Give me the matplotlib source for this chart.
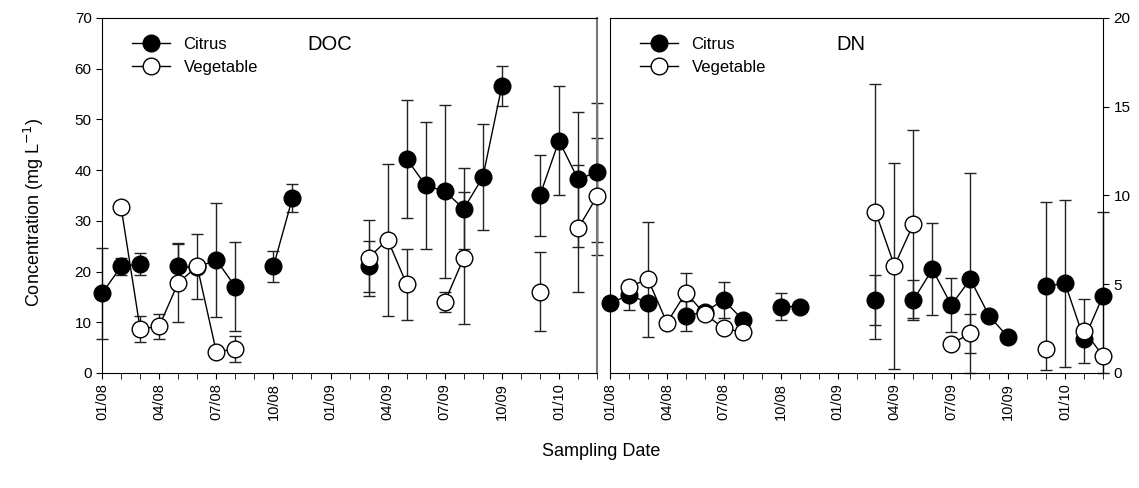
import numpy as np
import matplotlib.pyplot as plt

plt.rcParams['font.family'] = ['Liberation Sans', 'DejaVu Sans']

nan = np.nan

# months since 01/2008 (0 .. 26)
months = list(range(27))
tick_labels = ["01/08", "04/08", "07/08", "10/08", "01/09", "04/09", "07/09", "10/09", "01/10"]

# DOC (mg L-1), nan = no sample
doc_citrus = [15.7, 21.0, 21.5, nan, 21.0, 20.8, 22.3, 17.0, nan, 21.0, 34.5, nan, nan, nan,
              21.0, nan, 42.2, 37.0, 35.8, 32.4, 38.6, 56.6, nan, 35.0, 45.8, 38.2, 39.6]
doc_citrus_err = [9.0, 1.6, 2.2, 0, 4.4, 0, 11.2, 8.8, 0, 3.1, 2.8, 0, 0, 0,
                  5.0, 0, 11.7, 12.5, 17.0, 8.0, 10.5, 4.0, 0, 8.0, 10.8, 13.3, 13.7]
doc_veg = [nan, 32.7, 8.7, 9.2, 17.8, 21.0, 4.2, 4.7, nan, nan, nan, nan, nan, nan,
           22.7, 26.3, 17.5, nan, 14.0, 22.7, nan, nan, nan, 16.0, nan, 28.5, 34.8]
doc_veg_err = [0, 0, 2.5, 2.5, 7.8, 6.4, 0, 2.5, 0, 0, 0, 0, 0, 0,
               7.5, 15.0, 7.0, 0, 2.0, 13.0, 0, 0, 0, 7.8, 0, 12.6, 11.5]

# DN (mg L-1)
dn_citrus = [3.93, 4.39, 3.96, nan, 3.21, 3.45, 4.11, 2.99, nan, 3.74, 3.74, nan, nan, nan,
             4.11, nan, 4.11, 5.84, 3.83, 5.28, 3.21, 2.01, nan, 4.90, 5.05, 1.90, 4.34]
dn_citrus_err = [0, 0.85, 0, 0, 0.84, 0, 1.0, 0, 0, 0.74, 0, 0, 0, 0,
                 1.4, 0, 1.1, 2.6, 1.5, 6.0, 0, 0, 0, 4.75, 4.7, 0, 4.75]
dn_veg = [nan, 4.86, 5.28, 2.83, 4.52, 3.32, 2.52, 2.29, nan, nan, nan, nan, nan, nan,
          9.09, 6.04, 8.39, nan, 1.63, 2.24, nan, nan, nan, 1.35, nan, 2.38, 0.96]
dn_veg_err = [0, 0, 3.25, 0, 1.1, 0, 0, 0, 0, 0, 0, 0, 0, 0,
              7.2, 5.8, 5.3, 0, 0, 1.1, 0, 0, 0, 0, 0, 1.8, 0]


def draw(ax, cit, cit_err, veg, veg_err):
	x = np.array(months, dtype=float)
	for y, e, fc, z in [(cit, cit_err, 'black', 3), (veg, veg_err, 'white', 4)]:
		y = np.array(y)
		e = np.array(e)
		m = ~np.isnan(y) & (e > 0)
		lower = np.minimum(e[m], y[m])  # bars stop at the x axis
		ax.errorbar(x[m], y[m], yerr=[lower, e[m]], fmt='none', ecolor='#222222', elinewidth=1,
					capsize=4, capthick=1, zorder=2, clip_on=False)
		ax.plot(x, y, '-', color='black', lw=1, marker='o', ms=12, mfc=fc, mec='black',
				mew=1, zorder=z, clip_on=False)
	ax.set_xlim(0, 26)
	ax.set_xticks(months, minor=True)
	ax.set_xticks(months[::3])
	ax.set_xticklabels(tick_labels, rotation=90, fontsize=10.5)
	ax.tick_params(axis='x', which='both', direction='out', length=4)
	ax.tick_params(axis='y', direction='out', length=4, labelsize=11)


fig = plt.figure(figsize=(11.39, 4.88), dpi=100)
ax1 = fig.add_axes([0.0896, 0.2357, 0.4346, 0.7275])
ax2 = fig.add_axes([0.5356, 0.2357, 0.4328, 0.7275])

draw(ax1, doc_citrus, doc_citrus_err, doc_veg, doc_veg_err)
draw(ax2, dn_citrus, dn_citrus_err, dn_veg, dn_veg_err)

ax1.set_ylim(0, 70)
ax1.set_yticks(range(0, 71, 10))
ax1.spines['right'].set_color('#777777')
ax1.spines['right'].set_linewidth(1.5)

ax2.set_ylim(0, 20)
ax2.set_yticks(range(0, 21, 5))
ax2.yaxis.tick_right()

for ax, name, tx in [(ax1, "DOC", 0.415), (ax2, "DN", 0.46)]:
	ax.text(tx, 0.925, name, transform=ax.transAxes, fontsize=14.5, va='center')
	h1, = ax.plot([], [], '-', color='black', lw=1, marker='o', ms=12, mfc='black', mec='black')
	h2, = ax.plot([], [], '-', color='black', lw=1, marker='o', ms=12, mfc='white', mec='black')
	ax.legend([h1, h2], ["Citrus", "Vegetable"], loc='upper left', bbox_to_anchor=(0.03, 0.99),
			  frameon=False, fontsize=12, handlelength=2.3, labelspacing=0.5, handletextpad=0.8)

fig.text(0.03, 0.565, "Concentration (mg L$^{-1}$)", rotation=90, fontsize=13, va='center', ha='center')
fig.text(0.528, 0.075, "Sampling Date", fontsize=13, ha='center', va='center')

fig.savefig("out.png", dpi=100)
